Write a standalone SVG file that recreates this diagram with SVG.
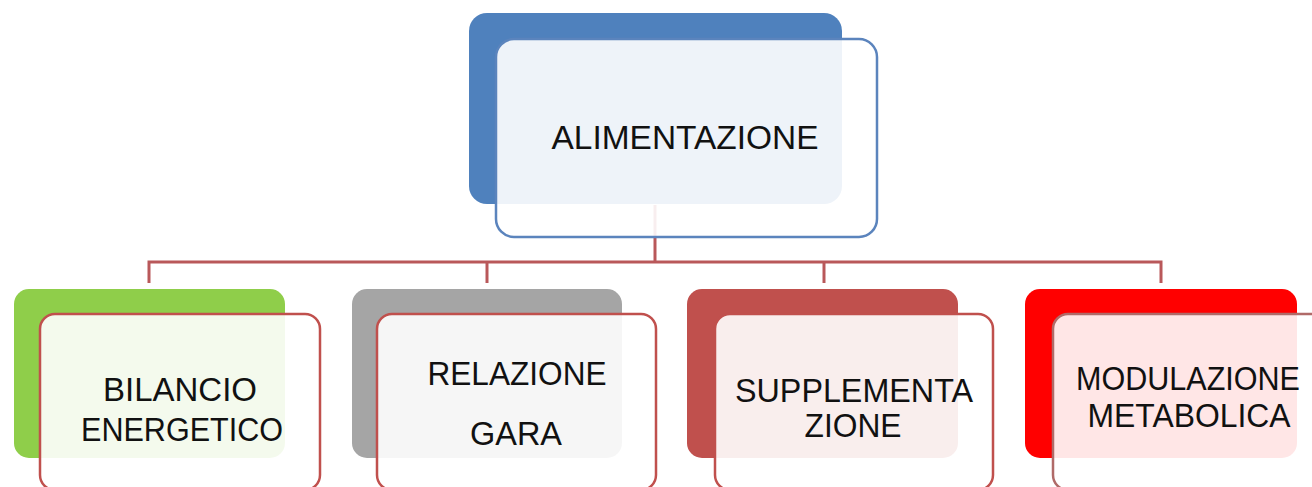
<svg xmlns="http://www.w3.org/2000/svg" width="1312" height="487" viewBox="0 0 1312 487">
<style>
.front{fill:#ffffff;fill-opacity:0.9;stroke-width:2.5}
.fb{stroke:#c0504d}
.lbl{font-family:"Liberation Sans",Arial,sans-serif;font-size:33px;fill:#111111;text-anchor:middle}
.conn{fill:none;stroke:#b9585a;stroke-width:3}
</style>
<rect width="1312" height="487" fill="#ffffff"/>
<g id="connectors">
<path class="conn" d="M655,205 V262"/>
<path class="conn" d="M149,283 V262 H1161 V283"/>
<path class="conn" d="M487,262 V283"/>
<path class="conn" d="M824,262 V283"/>
</g>
<g id="node-alimentazione">
<rect x="469" y="13" width="373" height="191" rx="18" fill="#4f81bd"/>
<rect class="front" x="496" y="39" width="381" height="198" rx="18" stroke="#5b84bd"/>
<text class="lbl" x="685" y="149" textLength="267" lengthAdjust="spacingAndGlyphs">ALIMENTAZIONE</text>
</g>
<g id="node-bilancio">
<rect x="14" y="289" width="271" height="169" rx="15" fill="#8fce4a"/>
<rect class="front fb" x="40" y="314" width="280" height="176" rx="15"/>
<text class="lbl" x="180" y="401" textLength="154" lengthAdjust="spacingAndGlyphs">BILANCIO</text>
<text class="lbl" x="182" y="441" textLength="202" lengthAdjust="spacingAndGlyphs">ENERGETICO</text>
</g>
<g id="node-relazione">
<rect x="352" y="289" width="270" height="169" rx="15" fill="#a5a5a5"/>
<rect class="front fb" x="377" y="314" width="279" height="176" rx="15"/>
<text class="lbl" x="517" y="385" textLength="179" lengthAdjust="spacingAndGlyphs">RELAZIONE</text>
<text class="lbl" x="516" y="445" textLength="92" lengthAdjust="spacingAndGlyphs">GARA</text>
</g>
<g id="node-supplementazione">
<rect x="687" y="289" width="271" height="169" rx="15" fill="#c0504d"/>
<rect class="front fb" x="715" y="314" width="278" height="176" rx="15"/>
<text class="lbl" x="854" y="402" textLength="238" lengthAdjust="spacingAndGlyphs">SUPPLEMENTA</text>
<text class="lbl" x="853" y="437" textLength="97" lengthAdjust="spacingAndGlyphs">ZIONE</text>
</g>
<g id="node-modulazione">
<rect x="1025" y="289" width="272" height="169" rx="15" fill="#ff0000"/>
<rect class="front" x="1053" y="314" width="280" height="176" rx="15" stroke="#b06a68"/>
<text class="lbl" x="1188" y="390" textLength="224" lengthAdjust="spacingAndGlyphs">MODULAZIONE</text>
<text class="lbl" x="1189" y="427" textLength="203" lengthAdjust="spacingAndGlyphs">METABOLICA</text>
</g>
</svg>
